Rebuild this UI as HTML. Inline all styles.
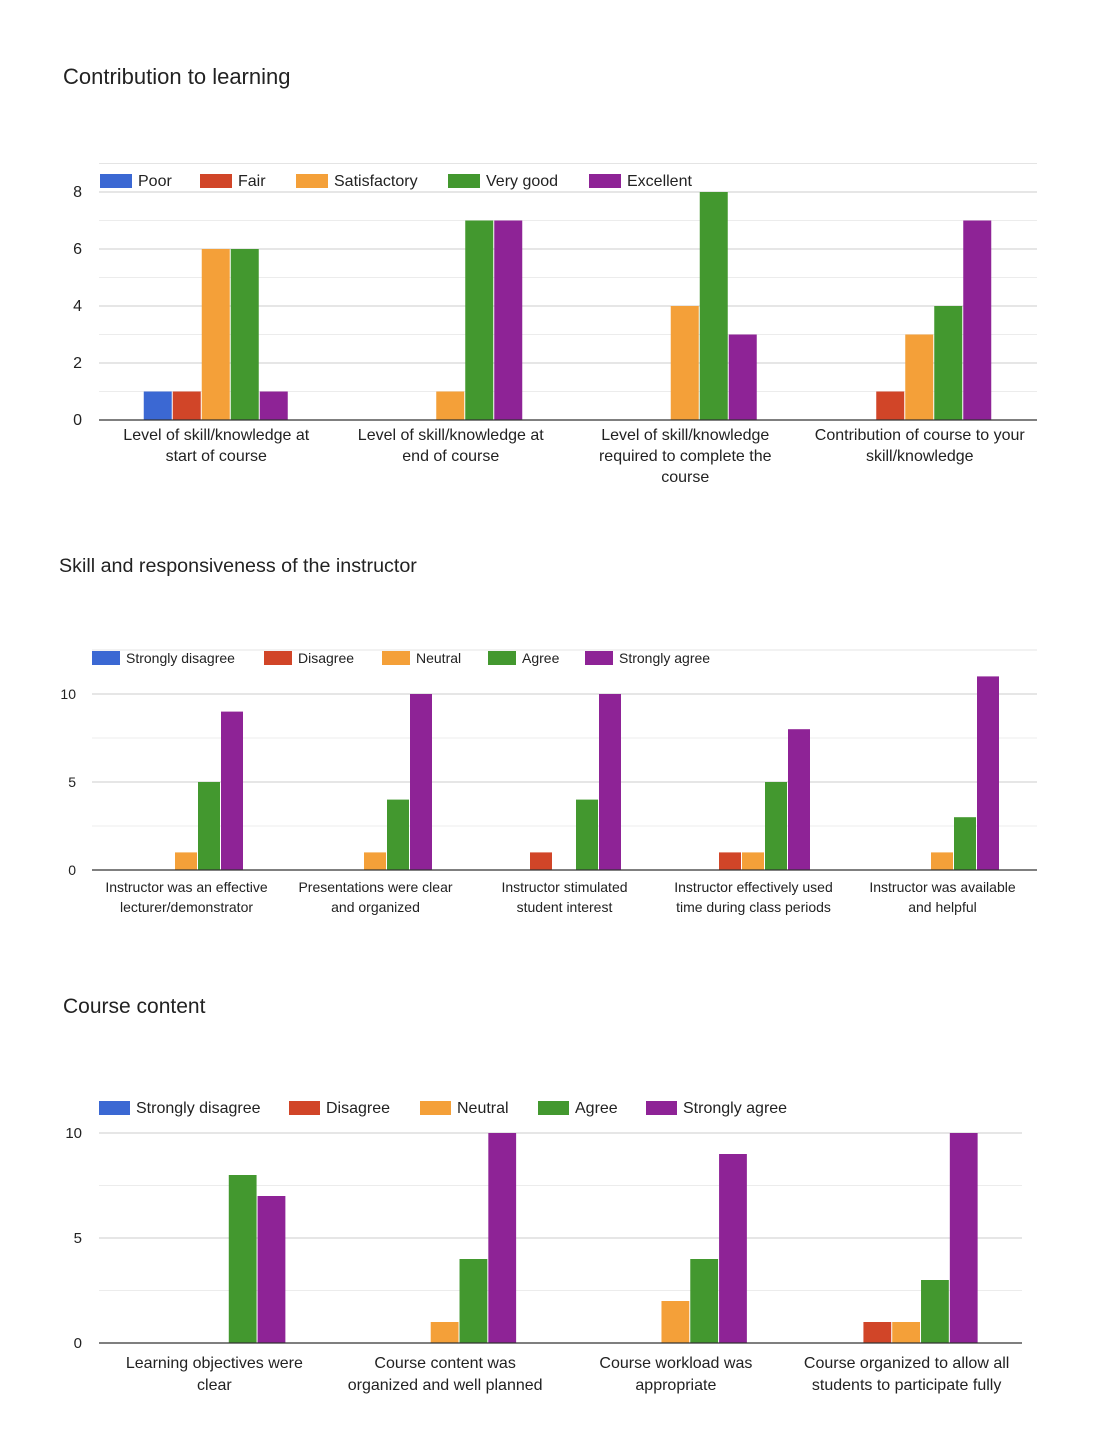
<!DOCTYPE html>
<html><head><meta charset="utf-8">
<style>
body{margin:0;background:#fff;font-family:"Liberation Sans",Arial,sans-serif;}
svg text{font-family:"Liberation Sans",Arial,sans-serif;fill:#222;}
</style></head>
<body>
<svg id="s" width="1098" height="1444" xmlns="http://www.w3.org/2000/svg"></svg>
<script>
const colors=["#3b68d3","#d14528","#f4a039","#43982f","#8e2396"];
// Chart 1 data
const c1Series=["Poor","Fair","Satisfactory","Very good","Excellent"];
const c1Cats=[["Level of skill/knowledge at","start of course"],["Level of skill/knowledge at","end of course"],["Level of skill/knowledge","required to complete the","course"],["Contribution of course to your","skill/knowledge"]];
const c1Values=[[1,1,6,6,1],[0,0,1,7,7],[0,0,4,8,3],[0,1,3,4,7]];
const c1Ticks=[0,2,4,6,8];
// Chart 2 data
const c2Series=["Strongly disagree","Disagree","Neutral","Agree","Strongly agree"];
const c2Cats=[["Instructor was an effective","lecturer/demonstrator"],["Presentations were clear","and organized"],["Instructor stimulated","student interest"],["Instructor effectively used","time during class periods"],["Instructor was available","and helpful"]];
const c2Values=[[0,0,1,5,9],[0,0,1,4,10],[0,1,0,4,10],[0,1,1,5,8],[0,0,1,3,11]];
const c2Ticks=[0,5,10];
// Chart 3 data
const c3Series=["Strongly disagree","Disagree","Neutral","Agree","Strongly agree"];
const c3Cats=[["Learning objectives were","clear"],["Course content was","organized and well planned"],["Course workload was","appropriate"],["Course organized to allow all","students to participate fully"]];
const c3Values=[[0,0,0,8,7],[0,0,1,4,10],[0,0,2,4,9],[0,1,1,3,10]];
const c3Ticks=[0,5,10];

const svg=document.getElementById('s');
const NS="http://www.w3.org/2000/svg";
function mk(tag,attrs,parent){const e=document.createElementNS(NS,tag);for(const k in attrs)e.setAttribute(k,attrs[k]);(parent||svg).appendChild(e);return e;}

function chart(cfg){
  const g=mk('g',{});
  
  
  const t=mk('text',{x:cfg.titleX,y:cfg.titleY,'font-size':cfg.titleFs},g);
  t.textContent=cfg.title;
  
  
  const y=v=>cfg.base-v*cfg.unit;
  cfg.minor.forEach(v=>{const l=mk('line',{x1:cfg.x0,x2:cfg.x1,y1:y(v),y2:y(v),stroke:'#ececec'},g);
    });
  cfg.ticks.forEach(v=>{
    if(v>0){const l=mk('line',{x1:cfg.x0,x2:cfg.x1,y1:y(v),y2:y(v),stroke:'#cccccc'},g);
      }
    const tx=mk('text',{x:cfg.tickX,y:y(v)+5,'font-size':cfg.tickFs,'text-anchor':'end',fill:'#444'},g);
    tx.textContent=v;
    
  });
  if(cfg.topLine){const l=mk('line',{x1:cfg.x0,x2:cfg.x1,y1:y(cfg.topLine),y2:y(cfg.topLine),stroke:'#e4e4e4'},g);
    }
  const gw=(cfg.x1-cfg.x0)/cfg.cats.length;
  cfg.values.forEach((row,i)=>{
    const cx=cfg.x0+gw*(i+0.5);
    const start=cx-row.length*cfg.bw/2;
    row.forEach((v,j)=>{
      if(v<=0)return;
      const r=mk('rect',{x:start+j*cfg.bw,y:y(v),width:cfg.bw-1,height:v*cfg.unit,fill:colors[j]},g);
      
      
    });
    cfg.cats[i].forEach((ln,k)=>{
      const tx=mk('text',{x:cx,y:cfg.base+cfg.catDy+k*cfg.catLh,'font-size':cfg.catFs,'text-anchor':'middle'},g);
      tx.textContent=ln;
      
    });
  });
  const ax=mk('line',{x1:cfg.x0,x2:cfg.x1,y1:cfg.base,y2:cfg.base,stroke:'#333','stroke-width':1.3},g);
  
  cfg.series.forEach((s,j)=>{
    const r=mk('rect',{x:cfg.legX[j],y:cfg.legY,width:cfg.swW,height:14,fill:colors[j]},g);
    
    const tx=mk('text',{x:cfg.legX[j]+cfg.swW+6,y:cfg.legY+12,'font-size':cfg.legFs},g);
    tx.textContent=s;
    
  });
}

chart({name:'contribution-chart',title:'Contribution to learning',titleX:63,titleY:84,titleFs:22,
  x0:99,x1:1037,base:420,unit:28.5,ticks:c1Ticks,minor:[1,3,5,7],topLine:9,tickX:82,tickFs:16,
  cats:c1Cats,values:c1Values,series:c1Series,bw:29,catDy:20,catLh:21,catFs:16,
  legX:[100,200,296,448,589],legY:174,swW:32,legFs:16});
chart({name:'instructor-chart',title:'Skill and responsiveness of the instructor',titleX:59,titleY:572,titleFs:19.7,
  x0:92,x1:1037,base:870,unit:17.6,ticks:c2Ticks,minor:[2.5,7.5],topLine:12.5,tickX:76,tickFs:14,
  cats:c2Cats,values:c2Values,series:c2Series,bw:23,catDy:22,catLh:20,catFs:14,
  legX:[92,264,382,488,585],legY:651,swW:28,legFs:14});
chart({name:'course-content-chart',title:'Course content',titleX:63,titleY:1013,titleFs:21,
  x0:99,x1:1022,base:1343,unit:21,ticks:c3Ticks,minor:[2.5,7.5],topLine:0,tickX:82,tickFs:15,
  cats:c3Cats,values:c3Values,series:c3Series,bw:28.8,catDy:25,catLh:22,catFs:16,
  legX:[99,289,420,538,646],legY:1101,swW:31,legFs:16});
</script>
</body></html>
